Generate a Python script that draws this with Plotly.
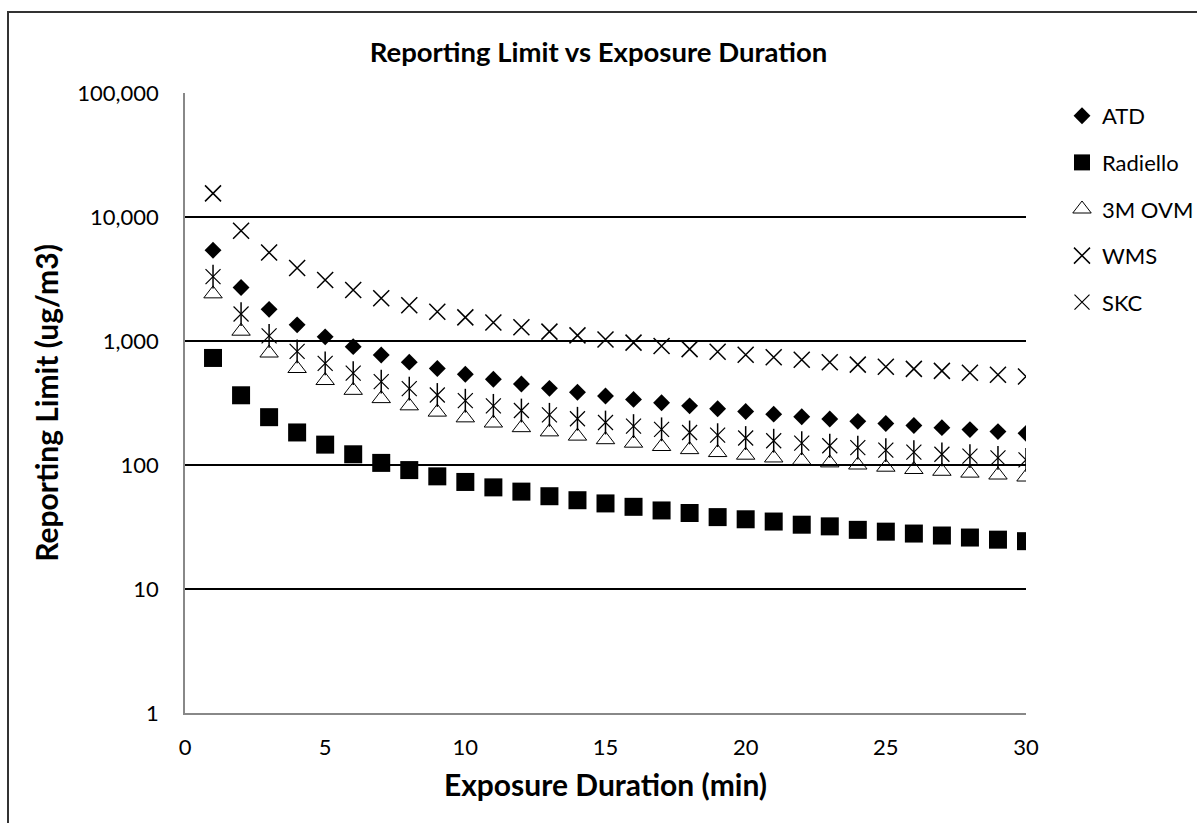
import plotly.graph_objects as go

minutes = list(range(1, 31))

atd = [5400, 2700, 1800, 1350, 1080, 900, 771, 675, 600, 540,
       491, 450, 415, 386, 360, 338, 318, 300, 284, 270,
       257, 245, 235, 225, 216, 208, 200, 193, 186, 180]
radiello = [730, 365, 243, 183, 146, 122, 104, 91, 81, 73,
            66, 61, 56, 52, 49, 46, 43, 41, 38, 36.5,
            35, 33, 32, 30, 29, 28, 27, 26, 25, 24.3]
ovm3m = [2400, 1200, 800, 600, 480, 400, 343, 300, 267, 240,
         218, 200, 185, 171, 160, 150, 141, 133, 126, 120,
         114, 109, 104, 100, 96, 92, 89, 86, 83, 80]
wms = [15500, 7750, 5170, 3880, 3100, 2580, 2210, 1940, 1720, 1550,
       1410, 1290, 1190, 1110, 1030, 970, 910, 860, 820, 775,
       740, 705, 675, 645, 620, 596, 574, 554, 534, 517]
skc = [3300, 1650, 1100, 825, 660, 550, 471, 413, 367, 330,
       300, 275, 254, 236, 220, 206, 194, 183, 174, 165,
       157, 150, 143, 138, 132, 127, 122, 118, 114, 110]

y_tickvals = [1, 10, 100, 1000, 10000, 100000]
y_ticktext = ["1", "10", "100", "1,000", "10,000", "100,000"]
x_tickvals = [0, 5, 10, 15, 20, 25, 30]

FONT = "Lato"
fig = go.Figure()

fig.add_trace(go.Scatter(x=minutes, y=atd, mode="markers", name="ATD", legendgroup="a",
                         marker=dict(symbol="diamond", size=13, color="black")))
fig.add_trace(go.Scatter(x=minutes, y=radiello, mode="markers", name="Radiello", legendgroup="b",
                         marker=dict(symbol="square", size=18, color="black")))
fig.add_trace(go.Scatter(x=minutes, y=ovm3m, mode="markers", name="3M OVM", legendgroup="c",
                         marker=dict(symbol="triangle-up-open", size=16, color="black",
                                     line=dict(width=1, color="black"))))
fig.add_trace(go.Scatter(x=minutes, y=wms, mode="markers", name="WMS", legendgroup="d",
                         marker=dict(symbol="x-thin-open", size=16, color="black",
                                     line=dict(width=1.5, color="black"))))
fig.add_trace(go.Scatter(x=minutes, y=skc, mode="markers", name="SKC", legendgroup="e",
                         marker=dict(symbol="x-thin-open", size=15, color="black",
                                     line=dict(width=1.2, color="black"))))
fig.add_trace(go.Scatter(x=minutes, y=skc, mode="markers", name="SKC", legendgroup="e",
                         showlegend=False,
                         marker=dict(symbol="line-ns-open", size=17, color="black",
                                     line=dict(width=1.5, color="black"))))

W, H = 1197, 823
ml, mr, mt, mb = 185, 171, 93, 110
pw, ph = W - ml - mr, H - mt - mb


def px(xp):
    return (xp - ml) / pw


def py(yp):
    return (H - mb - yp) / ph


fig.update_layout(
    width=W, height=H,
    margin=dict(l=ml, r=mr, t=mt, b=mb, autoexpand=False),
    paper_bgcolor="white", plot_bgcolor="white",
    font=dict(family=FONT, color="black", size=22),
    title=dict(text="<b>Reporting Limit vs Exposure Duration</b>", x=0.5, xanchor="center",
               y=1 - 52 / H, yanchor="middle", font=dict(size=27.5, family=FONT)),
    showlegend=True,
    legend=dict(x=px(1062), y=py(95), xanchor="left", yanchor="top",
                traceorder="grouped", tracegroupgap=15, itemwidth=30,
                font=dict(size=22, family=FONT), bgcolor="rgba(0,0,0,0)"),
    xaxis=dict(range=[0, 30], tickvals=x_tickvals, showgrid=False, zeroline=False,
               showline=True, linecolor="#888", linewidth=1.5, ticks="",
               tickfont=dict(size=22), ticklabelstandoff=14,
               title=dict(text="<b>Exposure Duration (min)</b>", font=dict(size=30), standoff=16)),
    yaxis=dict(type="log", range=[0, 5], tickvals=y_tickvals, ticktext=y_ticktext,
               showgrid=True, gridcolor="black", gridwidth=1.5, zeroline=False,
               showline=True, linecolor="#888", linewidth=1.5, ticks="",
               tickfont=dict(size=22), ticklabelstandoff=20,
               title=dict(text="<b>Reporting Limit (ug/m3)</b>", font=dict(size=30), standoff=10)),
    shapes=[dict(type="rect", xref="paper", yref="paper",
                 x0=px(8), x1=px(1210), y0=py(840), y1=py(12),
                 line=dict(color="#333", width=2), fillcolor="rgba(0,0,0,0)", layer="below")],
)

fig.write_html("out.html")
